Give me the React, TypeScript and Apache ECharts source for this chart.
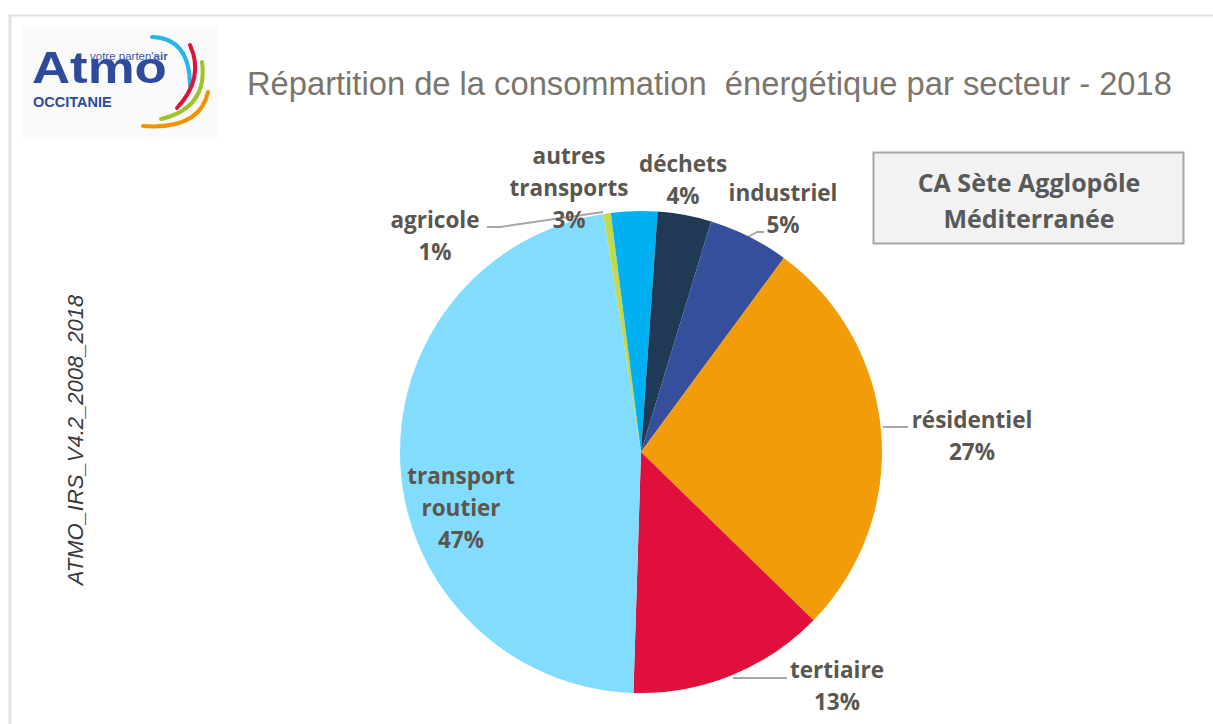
import React, { useEffect, useRef } from "react";
import * as echarts from "echarts";

const sectors = [
  "agricole",
  "autres transports",
  "déchets",
  "industriel",
  "résidentiel",
  "tertiaire",
  "transport routier",
];
const shares = [0.5, 3.1, 3.6, 5.4, 27.2, 13.2, 47.0];
const sectorColors = [
  "#c5d84a",
  "#00b0f0",
  "#203a55",
  "#364f9c",
  "#f39c0a",
  "#e00f3b",
  "#82dcfe",
];
const titleText = "Répartition de la consommation  énergétique par secteur - 2018";
const territory = "CA Sète Agglopôle\nMéditerranée";
const sourceText = "ATMO_IRS_V4.2_2008_2018";

// label placement (layout only)
const labelPos: { x: number; y: number; line?: number[][] }[] = [
  { x: 435, y: 235, line: [[603, 212], [500, 227], [487, 227]] },
  { x: 569, y: 187 },
  { x: 683, y: 179 },
  { x: 783, y: 208, line: [[748, 237], [757, 232], [764, 232]] },
  { x: 972, y: 435, line: [[883, 427], [896, 427], [908, 427]] },
  { x: 837, y: 685, line: [[733, 678], [760, 678], [787, 678]] },
  { x: 461, y: 507 },
];

export default function App() {
  const ref = useRef<HTMLDivElement>(null);
  useEffect(() => {
    if (!ref.current) return;
    const chart = echarts.init(ref.current, null, { renderer: "svg" });
    const labelColor = "#5a5650";
    chart.setOption({
      animation: false,
      backgroundColor: "#ffffff",
      graphic: [
        {
          type: "line",
          shape: { x1: 9, y1: 15.5, x2: 1213, y2: 15.5 },
          style: { stroke: "#e2e2e2", lineWidth: 2 },
        },
        {
          type: "line",
          shape: { x1: 10, y1: 15, x2: 10, y2: 724 },
          style: { stroke: "#e2e2e2", lineWidth: 3 },
        },
        {
          type: "rect",
          shape: { x: 22, y: 25, width: 196, height: 112 },
          style: { fill: "#fafafa" },
        },
        {
          type: "text",
          x: 32,
          y: 68,
          scaleX: 1.2,
          style: {
            text: "Atmo",
            font: "bold 44px 'Liberation Sans', Arial, sans-serif",
            fill: "#2e4a9b",
            align: "left",
            verticalAlign: "middle",
          },
        },
        {
          type: "text",
          x: 90,
          y: 56,
          style: {
            text: "{a|votre parten'}{b|air}",
            rich: {
              a: { font: "11.5px 'Liberation Sans', Arial, sans-serif", fill: "#3a5aa8" },
              b: { font: "bold 11.5px 'Liberation Sans', Arial, sans-serif", fill: "#3a5aa8" },
            },
            align: "left",
            verticalAlign: "middle",
          },
        },
        {
          type: "text",
          x: 33,
          y: 102,
          style: {
            text: "OCCITANIE",
            font: "bold 14.5px 'Liberation Sans', Arial, sans-serif",
            fill: "#2e4a9b",
            align: "left",
            verticalAlign: "middle",
          },
        },
        {
          type: "bezierCurve",
          shape: { x1: 152, y1: 37, x2: 190, y2: 86, cpx1: 190, cpy1: 38 },
          style: { stroke: "#2bb5e6", lineWidth: 4, fill: "none", lineCap: "round" },
        },
        {
          type: "bezierCurve",
          shape: { x1: 190, y1: 45, x2: 177, y2: 108, cpx1: 205, cpy1: 78 },
          style: { stroke: "#dc143c", lineWidth: 4, fill: "none", lineCap: "round" },
        },
        {
          type: "bezierCurve",
          shape: { x1: 202, y1: 62, x2: 161, y2: 119, cpx1: 208, cpy1: 108 },
          style: { stroke: "#9cc529", lineWidth: 4, fill: "none", lineCap: "round" },
        },
        {
          type: "bezierCurve",
          shape: { x1: 208, y1: 92, x2: 143, y2: 126, cpx1: 200, cpy1: 130 },
          style: { stroke: "#f39200", lineWidth: 4, fill: "none", lineCap: "round" },
        },
        {
          type: "text",
          x: 247,
          y: 83,
          style: {
            text: titleText,
            font: "32.7px 'Liberation Sans', Arial, sans-serif",
            fill: "#7a756d",
            align: "left",
            verticalAlign: "middle",
          },
        },
        {
          type: "rect",
          shape: { x: 873.5, y: 152.5, width: 310, height: 91 },
          style: { fill: "#f2f2f2", stroke: "#a6a6a6", lineWidth: 2 },
        },
        {
          type: "text",
          x: 1029,
          y: 200,
          style: {
            text: territory,
            font: "bold 25px 'Open Sans', sans-serif",
            lineHeight: 36,
            fill: "#595959",
            align: "center",
            verticalAlign: "middle",
          },
        },
        {
          type: "text",
          x: 75,
          y: 440,
          rotation: Math.PI / 2,
          style: {
            text: sourceText,
            font: "italic 22px 'Liberation Sans', Arial, sans-serif",
            fill: "#3a3a3a",
            align: "center",
            verticalAlign: "middle",
          },
        },
      ],
      series: [
        {
          type: "pie",
          center: [641, 452],
          radius: 241,
          startAngle: 99,
          clockwise: true,
          avoidLabelOverlap: false,
          data: sectors.map((name, i) => ({
            name,
            value: shares[i],
            itemStyle: { color: sectorColors[i] },
            labelLine: { show: !!labelPos[i].line },
          })),
          itemStyle: { borderWidth: 0 },
          label: {
            show: true,
            position: "outside",
            formatter: (p: any) =>
              `${p.name.replace(" ", "\n")}\n${Math.round(p.percent)}%`,
            fontFamily: "'Open Sans', sans-serif",
            fontWeight: 700,
            fontSize: 22.5,
            lineHeight: 32,
            color: labelColor,
            align: "center",
          },
          labelLine: {
            show: true,
            lineStyle: { color: "#a6a6a6", width: 2 },
          },
          labelLayout: (params: any) => {
            const lp = labelPos[params.dataIndex];
            const res: any = {
              x: lp.x,
              y: lp.y,
              align: "center",
              verticalAlign: "middle",
            };
            if (lp.line) res.labelLinePoints = lp.line;
            return res;
          },
        },
      ],
    });
    return () => chart.dispose();
  }, []);
  return (
    <div
      ref={ref}
      style={{ position: "fixed", left: 0, top: 0, width: 1213, height: 724 }}
    />
  );
}
